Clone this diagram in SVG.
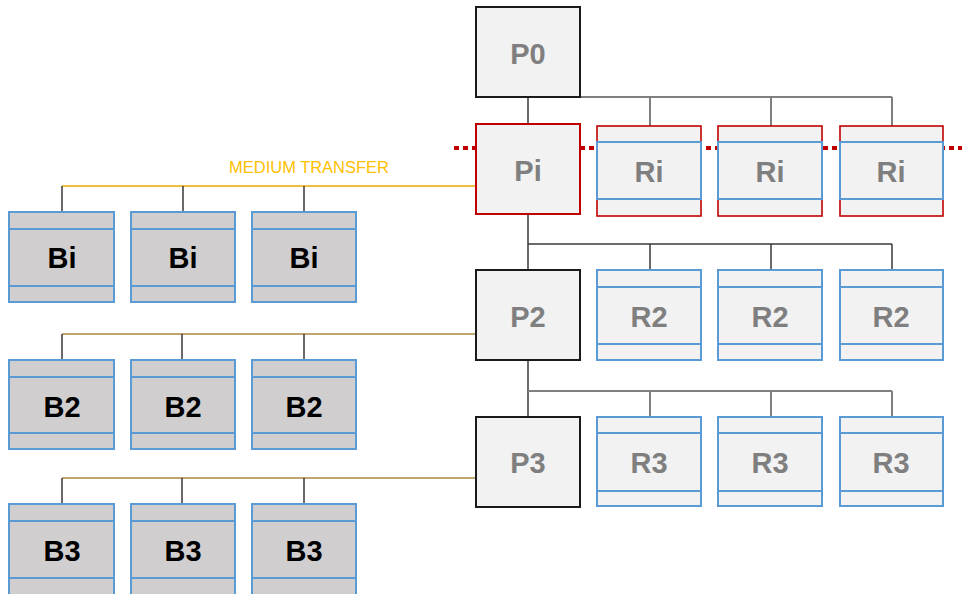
<svg xmlns="http://www.w3.org/2000/svg" width="962" height="594" viewBox="0 0 962 594">
<style>
.p{fill:#f2f2f2;stroke:#1a1a1a;stroke-width:2}
.pr{fill:#f2f2f2;stroke:#c00000;stroke-width:2}
.rr{fill:#f2f2f2;stroke:#c00000;stroke-width:1.6}
.r{fill:#f2f2f2;stroke:#5b9bd5;stroke-width:2}
.b{fill:#d0cece;stroke:#5b9bd5;stroke-width:2}
.ln{stroke:#5b9bd5;stroke-width:2;fill:none}
.band{fill:#f2f2f2;stroke:#5b9bd5;stroke-width:2}
.tg{font-family:"Liberation Sans",Arial,sans-serif;font-weight:bold;font-size:29px;fill:#7f7f7f;text-anchor:middle}
.tb{font-family:"Liberation Sans",Arial,sans-serif;font-weight:bold;font-size:29px;fill:#000;text-anchor:middle}
.c{stroke:#3a3a3a;stroke-width:1.5;fill:none}
.cg{stroke:#7f7f7f;stroke-width:2;fill:none}
.y{stroke:#e6ac00;stroke-width:1.5;fill:none}
.t{stroke:#bfa46f;stroke-width:2;fill:none}
.dot{stroke:#c00000;stroke-width:4;stroke-dasharray:5 4;fill:none}
</style>
<rect width="962" height="594" fill="#fff"/>
<g id="connectors">
<line class="dot" x1="454" y1="148" x2="962" y2="148"/>
<path class="cg" d="M580 97H892M650 97V126M771 97V126M892 97V126"/>
<path class="c" d="M528 97V124M528 214V270M528 244H892M650 244V270M771 244V270M892 244V270"/>
<path class="c" d="M528 360V417"/>
<path class="cg" d="M528 391H892M650 391V417M771 391V417M892 391V417"/>
<path class="y" d="M62 186H476"/>
<path class="c" d="M62 186V212M183 186V212M304 186V212"/>
<path class="t" d="M62 334H476"/>
<path class="c" d="M62 334V360M182 334V360M304 334V360"/>
<path class="t" d="M62 478H476"/>
<path class="c" d="M62 478V504M182 478V504M304 478V504"/>
<text x="309" y="173" font-family="Liberation Sans,Arial,sans-serif" font-size="16" fill="#ffc000" text-anchor="middle" textLength="160" lengthAdjust="spacingAndGlyphs">MEDIUM TRANSFER</text>
</g>
<g id="P0"><rect class="p" x="476" y="7" width="104" height="90"/><text class="tg" x="528" y="64">P0</text></g>
<g id="Pi"><rect class="pr" x="476" y="124" width="104" height="90"/><text class="tg" x="528" y="181">Pi</text></g>
<g id="P2"><rect class="p" x="476" y="270" width="104" height="90"/><text class="tg" x="528" y="327">P2</text></g>
<g id="P3"><rect class="p" x="476" y="417" width="104" height="90"/><text class="tg" x="528" y="473">P3</text></g>

<g id="Ri1"><rect class="rr" x="597" y="126" width="104" height="90"/><rect class="band" x="597" y="142" width="104" height="57"/><text class="tg" x="649" y="182">Ri</text></g>
<g id="Ri2"><rect class="rr" x="718" y="126" width="104" height="90"/><rect class="band" x="718" y="142" width="104" height="57"/><text class="tg" x="770" y="182">Ri</text></g>
<g id="Ri3"><rect class="rr" x="840" y="126" width="103" height="90"/><rect class="band" x="840" y="142" width="103" height="57"/><text class="tg" x="891" y="182">Ri</text></g>

<g id="R2a"><rect class="r" x="597" y="270" width="104" height="90"/><path class="ln" d="M597 287H701M597 344H701"/><text class="tg" x="649" y="327">R2</text></g>
<g id="R2b"><rect class="r" x="718" y="270" width="104" height="90"/><path class="ln" d="M718 287H822M718 344H822"/><text class="tg" x="770" y="327">R2</text></g>
<g id="R2c"><rect class="r" x="840" y="270" width="103" height="90"/><path class="ln" d="M840 287H943M840 344H943"/><text class="tg" x="891" y="327">R2</text></g>

<g id="R3a"><rect class="r" x="597" y="417" width="104" height="89"/><path class="ln" d="M597 433H701M597 491H701"/><text class="tg" x="649" y="473">R3</text></g>
<g id="R3b"><rect class="r" x="718" y="417" width="104" height="89"/><path class="ln" d="M718 433H822M718 491H822"/><text class="tg" x="770" y="473">R3</text></g>
<g id="R3c"><rect class="r" x="840" y="417" width="103" height="89"/><path class="ln" d="M840 433H943M840 491H943"/><text class="tg" x="891" y="473">R3</text></g>

<g id="Bi1"><rect class="b" x="9" y="212" width="105" height="90"/><path class="ln" d="M9 229H114M9 286H114"/><text class="tb" x="62" y="268">Bi</text></g>
<g id="Bi2"><rect class="b" x="131" y="212" width="104" height="90"/><path class="ln" d="M131 229H235M131 286H235"/><text class="tb" x="183" y="268">Bi</text></g>
<g id="Bi3"><rect class="b" x="252" y="212" width="104" height="90"/><path class="ln" d="M252 229H356M252 286H356"/><text class="tb" x="304" y="268">Bi</text></g>

<g id="B2a"><rect class="b" x="9" y="360" width="105" height="89"/><path class="ln" d="M9 377H114M9 433H114"/><text class="tb" x="62" y="417">B2</text></g>
<g id="B2b"><rect class="b" x="131" y="360" width="104" height="89"/><path class="ln" d="M131 377H235M131 433H235"/><text class="tb" x="183" y="417">B2</text></g>
<g id="B2c"><rect class="b" x="252" y="360" width="104" height="89"/><path class="ln" d="M252 377H356M252 433H356"/><text class="tb" x="304" y="417">B2</text></g>

<g id="B3a"><rect class="b" x="9" y="504" width="105" height="92"/><path class="ln" d="M9 521H114M9 578H114"/><text class="tb" x="62" y="561">B3</text></g>
<g id="B3b"><rect class="b" x="131" y="504" width="104" height="92"/><path class="ln" d="M131 521H235M131 578H235"/><text class="tb" x="183" y="561">B3</text></g>
<g id="B3c"><rect class="b" x="252" y="504" width="104" height="92"/><path class="ln" d="M252 521H356M252 578H356"/><text class="tb" x="304" y="561">B3</text></g>
</svg>
